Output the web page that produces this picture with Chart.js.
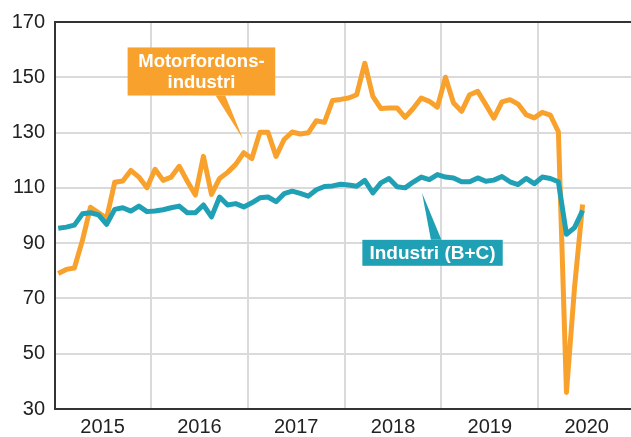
<!DOCTYPE html>
<html>
<head>
<meta charset="utf-8">
<script src="https://cdn.jsdelivr.net/npm/chart.js@4/dist/chart.umd.min.js"></script>
<style>
  body { margin: 0; background: #fff; }
</style>
</head>
<body>
<canvas id="chart" width="631" height="437"></canvas>
<script>
// monthly index, jan 2015 .. jun 2020
const years = ['2015', '2016', '2017', '2018', '2019', '2020'];
const yTicks = [30, 50, 70, 90, 110, 130, 150, 170];

const motorfordon = [
  79, 80.5, 81, 91, 103, 101, 99, 112, 112.5, 116.3, 113.9, 110,
  116.7, 112.7, 113.9, 117.8, 112.4, 107.4, 121.4, 107.6, 113.4, 115.6, 118.5, 122.7,
  120.6, 130.1, 130.1, 121.4, 127.5, 130.2, 129.5, 129.9, 134.3, 133.7, 141.6, 142,
  142.5, 143.7, 155.1, 143.1, 138.7, 138.9, 138.9, 135.5, 138.7, 142.5, 141.3, 139.2,
  150, 140.7, 137.7, 143.7, 144.9, 140.1, 135.2, 141.1, 141.9, 140.3, 136.5, 135.3,
  137.3, 136.3, 130.3, 36, 74, 104
];

const industri = [
  95.4, 95.8, 96.5, 100.6, 101, 100.2, 96.8, 102.2, 102.8, 101.6, 103.4, 101.4,
  101.6, 102.1, 102.8, 103.4, 101, 101, 103.8, 99.5, 106.7, 103.8, 104.3, 103.1,
  104.6, 106.4, 106.7, 105, 107.9, 108.8, 108, 107, 109.3, 110.5, 110.7, 111.3,
  111, 110.6, 112.7, 108.2, 111.8, 113.4, 110.4, 110, 112.1, 113.9, 113, 114.8,
  113.9, 113.6, 112.2, 112.2, 113.6, 112.4, 112.8, 114.1, 112.2, 111.2, 113.4, 111.5,
  113.9, 113.4, 112.2, 93.2, 95.6, 101.8
];

const orange = '#f8a22d';
const teal = '#20a0b4';

const xMin = -0.4, xMax = 71;

// callout boxes, placed in data units
const callouts = [
  { lines: ['Motorfordons-', 'industri'], color: orange, font: 'bold 18.5px "Liberation Sans", Arial, sans-serif',
    x0: 8.6, x1: 26.9, top: 160.8, bottom: 143.4, tip: [22.9, 127.7], base: [19.5, 20.7] },
  { lines: ['Industri (B+C)'], color: teal, font: 'bold 19px "Liberation Sans", Arial, sans-serif',
    x0: 37.7, x1: 55.1, top: 91.2, bottom: 81.8, tip: [45.1, 108.1], base: [46.2, 47.5] }
];

const calloutPlugin = {
  id: 'callouts',
  afterDraw(chart) {
    const c = chart.ctx, xs = chart.scales.x, ys = chart.scales.y;
    const area = chart.chartArea;
    // top frame line
    c.save();
    c.strokeStyle = '#333';
    c.lineWidth = 2;
    c.beginPath();
    c.moveTo(area.left, area.top);
    c.lineTo(area.right, area.top);
    c.stroke();

    callouts.forEach(b => {
      const l = xs.getPixelForValue(b.x0), r = xs.getPixelForValue(b.x1);
      const t = ys.getPixelForValue(b.top), bt = ys.getPixelForValue(b.bottom);
      const tx = xs.getPixelForValue(b.tip[0]), ty = ys.getPixelForValue(b.tip[1]);
      const baseY = ty < t ? t : bt;
      c.fillStyle = b.color;
      c.fillRect(l, t, r - l, bt - t);
      c.beginPath();
      c.moveTo(xs.getPixelForValue(b.base[0]), baseY);
      c.lineTo(tx, ty);
      c.lineTo(xs.getPixelForValue(b.base[1]), baseY);
      c.closePath();
      c.fill();
      c.fillStyle = '#fff';
      c.font = b.font;
      c.textAlign = 'center';
      c.textBaseline = 'middle';
      const lh = 21;
      const cy = (t + bt) / 2 - (b.lines.length - 1) * lh / 2;
      b.lines.forEach((s, i) => c.fillText(s, (l + r) / 2, cy + i * lh + 1));
    });
    c.restore();
  }
};

const ctx = document.getElementById('chart').getContext('2d');

new Chart(ctx, {
  type: 'line',
  data: {
    datasets: [
      {
        label: 'Motorfordonsindustri',
        data: motorfordon.map((v, i) => ({ x: i, y: v })),
        borderColor: orange,
        borderWidth: 5,
        pointRadius: 0,
        tension: 0,
        borderJoinStyle: 'round',
        order: 2
      },
      {
        label: 'Industri (B+C)',
        data: industri.map((v, i) => ({ x: i, y: v })),
        borderColor: teal,
        borderWidth: 5,
        pointRadius: 0,
        tension: 0,
        borderJoinStyle: 'round',
        order: 1
      }
    ]
  },
  options: {
    responsive: false,
    animation: false,
    layout: { padding: { top: 20, right: 0, left: 0, bottom: 0 } },
    plugins: {
      legend: { display: false },
      tooltip: { enabled: false }
    },
    scales: {
      x: {
        type: 'linear',
        min: xMin,
        max: xMax,
        afterBuildTicks: scale => {
          const t = [];
          years.forEach((y, k) => {
            t.push({ value: k * 12 + 5.5 });
            if (k * 12 + 11.5 <= xMax) t.push({ value: k * 12 + 11.5 });
          });
          scale.ticks = t;
        },
        afterFit: scale => { scale.height = 28; },
        grid: {
          drawTicks: false,
          lineWidth: 2,
          color: c => (c.tick && (c.tick.value - 11.5) % 12 === 0) ? '#dadada' : 'rgba(0,0,0,0)'
        },
        border: { color: '#333', width: 2 },
        ticks: {
          autoSkip: false,
          maxRotation: 0,
          padding: 6,
          color: '#222',
          font: { family: '"Liberation Sans", Arial, sans-serif', size: 20 },
          callback: v => ((v - 5.5) % 12 === 0) ? years[(v - 5.5) / 12] : ''
        }
      },
      y: {
        min: 30,
        max: 170,
        afterBuildTicks: scale => { scale.ticks = yTicks.map(v => ({ value: v })); },
        afterFit: scale => { scale.width = 55; },
        grid: { drawTicks: false, lineWidth: 2, color: '#dadada' },
        border: { color: '#333', width: 2 },
        ticks: {
          padding: 10,
          color: '#222',
          font: { family: '"Liberation Sans", Arial, sans-serif', size: 20 }
        }
      }
    }
  },
  plugins: [calloutPlugin]
});
</script>
</body>
</html>
